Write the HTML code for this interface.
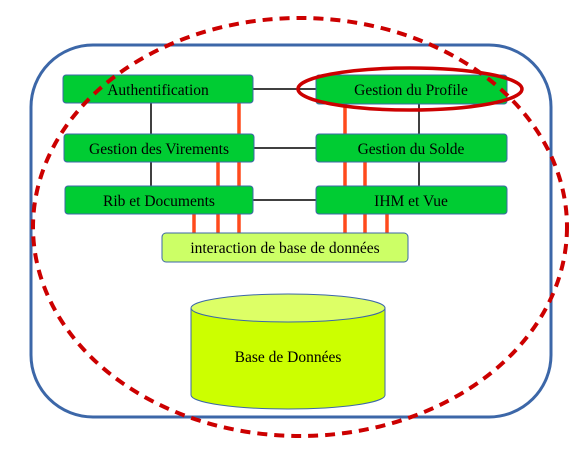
<!DOCTYPE html>
<html><head><style>body{margin:0;background:#fff}svg{display:block}</style></head><body>
<svg width="577" height="453" xmlns="http://www.w3.org/2000/svg" font-family="Liberation Serif, serif">
<rect x="31" y="45" width="520" height="372" rx="62" fill="none" stroke="#3c67a8" stroke-width="3"/>
<g stroke="#000" stroke-width="1.5">
<line x1="253" y1="89" x2="316" y2="89"/><line x1="254" y1="148" x2="316" y2="148"/><line x1="253" y1="200" x2="316" y2="200"/>
<line x1="151" y1="103" x2="151" y2="186"/><line x1="419" y1="104" x2="419" y2="186"/>
</g>
<g stroke="#ff4a1c" stroke-width="3.5">
<line x1="239" y1="103" x2="239" y2="234"/><line x1="218" y1="162" x2="218" y2="234"/><line x1="194" y1="214" x2="194" y2="234"/>
<line x1="345" y1="104" x2="345" y2="234"/><line x1="365" y1="162" x2="365" y2="234"/><line x1="387" y1="214" x2="387" y2="234"/>
</g>
<g fill="#00cc33" stroke="#3c67a8" stroke-width="1">
<rect x="63" y="75" width="190" height="28" rx="3"/><rect x="64" y="134" width="190" height="28" rx="3"/><rect x="65" y="186" width="188" height="28" rx="3"/>
<rect x="316" y="75" width="191" height="29" rx="3"/><rect x="316" y="134" width="191" height="28" rx="3"/><rect x="316" y="186" width="191" height="28" rx="3"/>
</g>
<rect x="162" y="233" width="246" height="29" rx="4" fill="#ccff66" stroke="#3c67a8"/>
<g font-size="15.5" text-anchor="middle" fill="#000">
<text x="158" y="95">Authentification</text><text x="159" y="154">Gestion des Virements</text><text x="159" y="206">Rib et Documents</text>
<text x="411" y="95">Gestion du Profile</text><text x="411" y="154">Gestion du Solde</text><text x="411" y="206">IHM et Vue</text>
<text x="285" y="253">interaction de base de données</text>
</g>
<path d="M191 308 L191 395 A97 14 0 0 0 385 395 L385 308" fill="#ccff00" stroke="#3c67a8"/>
<ellipse cx="288" cy="308" rx="97" ry="14" fill="#ddff66" stroke="#3c67a8"/>
<text x="288" y="362" font-size="15.5" text-anchor="middle">Base de Données</text>
<ellipse cx="300" cy="227" rx="267" ry="209" fill="none" stroke="#cc0000" stroke-width="4" stroke-dasharray="10,7"/>
<ellipse cx="410" cy="89" rx="112" ry="21" fill="none" stroke="#cc0000" stroke-width="3.5"/>
</svg>
</body></html>
